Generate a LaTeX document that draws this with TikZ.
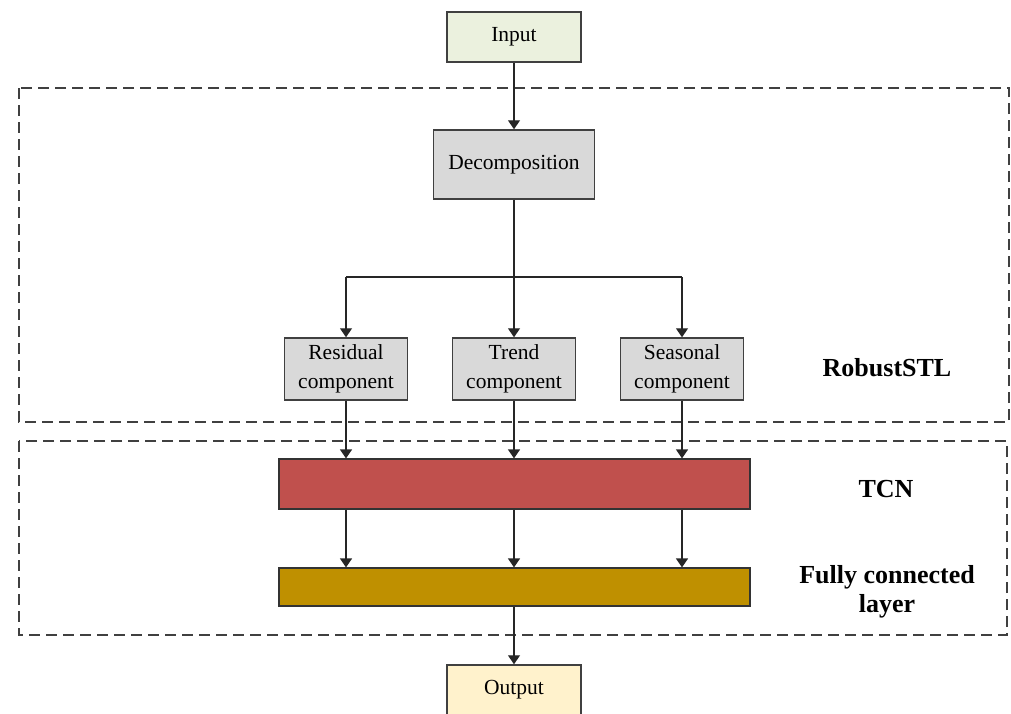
\documentclass[tikz,border=0pt]{standalone}
\usepackage{fontspec}
\setmainfont{Liberation Serif}
\usetikzlibrary{arrows.meta}
\definecolor{inputfill}{HTML}{EBF1DE}
\definecolor{grayfill}{HTML}{D9D9D9}
\definecolor{tcnfill}{HTML}{C0504D}
\definecolor{fcfill}{HTML}{BF9000}
\definecolor{outfill}{HTML}{FFF2CC}
\definecolor{edge}{HTML}{404040}
\tikzset{
  box/.style={draw=edge, line width=1.5pt, inner sep=0pt, align=center, font=\fontsize{21.5}{28.5}\selectfont},
  bar/.style={draw=edge!80!black, line width=1.2pt, inner sep=0pt},
  conn/.style={line width=1.3pt, draw=black!85, -{Triangle[width=12pt,length=9pt]}},
  line/.style={line width=1.3pt, draw=black!85},
  group/.style={draw=edge, line width=1.8pt, dash pattern=on 11pt off 6pt},
  lbl/.style={font=\fontsize{26}{29}\selectfont\bfseries, align=center}
}
\begin{document}
\begin{tikzpicture}[x=1pt,y=-1pt]
\useasboundingbox (0,0) rectangle (1011,713);
% group boxes
\draw[group] (19,88) rectangle (1009,422);
\draw[group] (19,441) rectangle (1007,635);
% nodes
\node[box, fill=inputfill, minimum width=134pt, minimum height=50pt] (in) at (514,37) {Input};
\node[box, fill=grayfill, minimum width=161pt, minimum height=69pt] (dec) at (514,164.5) {Decomposition};
\node[box, fill=grayfill, minimum width=123pt, minimum height=62pt] (res) at (346,369) {Residual\\component};
\node[box, fill=grayfill, minimum width=123pt, minimum height=62pt] (tre) at (514,369) {Trend\\component};
\node[box, fill=grayfill, minimum width=123pt, minimum height=62pt] (sea) at (682,369) {Seasonal\\component};
\node[bar, fill=tcnfill, minimum width=471pt, minimum height=50pt] (tcn) at (514.5,484) {};
\node[bar, fill=fcfill, minimum width=471pt, minimum height=38pt] (fc) at (514.5,587) {};
\node[box, fill=outfill, minimum width=134pt, minimum height=50pt] (out) at (514,690) {Output};
% labels
\node[lbl] (lrob) at (887,368) {RobustSTL};
\node[lbl] (ltcn) at (886,489) {TCN};
\node[lbl] (lfc) at (887,592) {Fully connected\\layer};
% connectors
\coordinate (br) at (514,277);
\coordinate (brl) at (346,277);
\coordinate (brr) at (682,277);
\draw[conn] (in) -- (dec);
\draw[line] (dec.south) -- (br);
\draw[conn] (br) -- (tre.north);
\draw[conn] (brl) -- (res.north);
\draw[conn] (brr) -- (sea.north);
\draw[line] (brl) -- (brr);
\draw[conn] (res.south) -- (res.south |- tcn.north);
\draw[conn] (tre.south) -- (tre.south |- tcn.north);
\draw[conn] (sea.south) -- (sea.south |- tcn.north);
\draw[conn] (res.south |- tcn.south) -- (res.south |- fc.north);
\draw[conn] (tre.south |- tcn.south) -- (tre.south |- fc.north);
\draw[conn] (sea.south |- tcn.south) -- (sea.south |- fc.north);
\draw[conn] (tre.south |- fc.south) -- (out.north);
\end{tikzpicture}
\end{document}
